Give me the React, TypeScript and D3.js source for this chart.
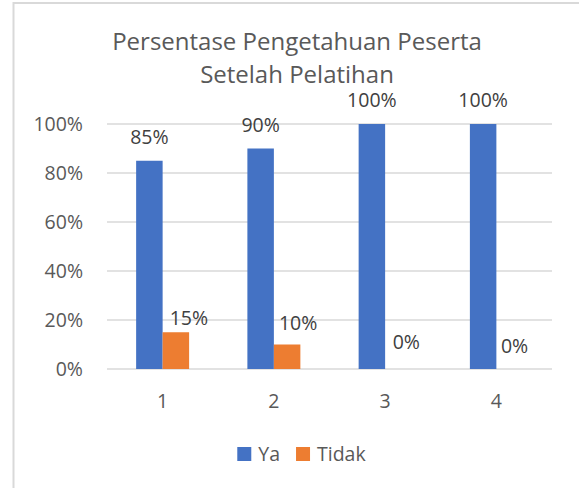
import React, { useRef, useEffect } from "react";
import * as d3 from "d3";

const categories = ["1", "2", "3", "4"];
const seriesNames = ["Ya", "Tidak"];
const yaValues = [0.85, 0.9, 1.0, 1.0];
const tidakValues = [0.15, 0.1, 0, 0];
const yTicks = [0, 0.2, 0.4, 0.6, 0.8, 1.0];
const titleLines = ["Persentase Pengetahuan Peserta", "Setelah Pelatihan"];

// Excel moved the Tidak labels around to dodge the blue bars
const tidakNudge = [
  [13, -7],
  [11, -15],
  [8, -20],
  [5, -16],
];

const colors = ["#4472C4", "#ED7D31"];
const textColor = "#595959";
const font = "'Open Sans', sans-serif";

const App = () => {
  const svgRef = useRef<SVGSVGElement>(null);

  useEffect(() => {
    const w = 579;
    const h = 488;
    const svg = d3.select(svgRef.current).attr("width", w).attr("height", h);
    svg.selectAll("*").remove();

    // chart border (only top and left visible in crop)
    svg
      .append("path")
      .attr("d", `M13.5,${h} L13.5,3 L${w},3`)
      .attr("fill", "none")
      .attr("stroke", "#d9d9d9")
      .attr("stroke-width", 2);

    const x = d3.scaleBand().domain(categories).range([107, 552]);
    const x1 = d3
      .scaleBand()
      .domain(seriesNames)
      .range([0, x.bandwidth()])
      .paddingOuter(1.1);
    const y = d3.scaleLinear().domain([0, 1]).range([369, 124]);

    // title
    svg
      .append("text")
      .attr("x", 297)
      .attr("y", 50)
      .attr("text-anchor", "middle")
      .attr("font-family", font)
      .attr("font-size", 24)
      .attr("fill", textColor)
      .selectAll("tspan")
      .data(titleLines)
      .enter()
      .append("tspan")
      .attr("x", 297)
      .attr("dy", (d, i) => (i === 0 ? 0 : 33))
      .text((d) => d);

    // gridlines
    svg
      .append("g")
      .selectAll("line")
      .data(yTicks)
      .enter()
      .append("line")
      .attr("x1", 107)
      .attr("x2", 552)
      .attr("y1", (d) => y(d))
      .attr("y2", (d) => y(d))
      .attr("stroke", "#d9d9d9")
      .attr("stroke-width", 1.3);

    // y axis labels
    svg
      .append("g")
      .selectAll("text")
      .data(yTicks)
      .enter()
      .append("text")
      .attr("x", 83)
      .attr("y", (d) => y(d) + 7)
      .attr("text-anchor", "end")
      .attr("font-family", font)
      .attr("font-size", 19.5)
      .attr("fill", textColor)
      .text((d) => d3.format(".0%")(d));

    // bars
    const groups = svg
      .append("g")
      .selectAll("g")
      .data(categories)
      .enter()
      .append("g")
      .attr("transform", (d) => `translate(${x(d)},0)`);

    const rows = [yaValues, tidakValues];
    groups
      .selectAll("rect")
      .data((d, i) => seriesNames.map((s, k) => ({ s, k, v: rows[k][i] })))
      .enter()
      .append("rect")
      .attr("x", (d) => x1(d.s)!)
      .attr("y", (d) => y(d.v))
      .attr("width", x1.bandwidth())
      .attr("height", (d) => y(0) - y(d.v))
      .attr("fill", (d) => colors[d.k]);

    // data labels
    groups
      .selectAll("text.lbl")
      .data((d, i) => seriesNames.map((s, k) => ({ s, k, i, v: rows[k][i] })))
      .enter()
      .append("text")
      .attr("class", "lbl")
      .attr("x", (d) => x1(d.s)! + x1.bandwidth() / 2 + (d.k === 1 ? tidakNudge[d.i][0] : 0))
      .attr("y", (d) => y(d.v) + (d.k === 1 ? tidakNudge[d.i][1] : -17))
      .attr("text-anchor", "middle")
      .attr("font-family", font)
      .attr("font-size", 19.5)
      .attr("fill", "#404040")
      .text((d) => d3.format(".0%")(d.v));

    // x axis labels
    svg
      .append("g")
      .selectAll("text")
      .data(categories)
      .enter()
      .append("text")
      .attr("x", (d) => x(d)! + x.bandwidth() / 2)
      .attr("y", 408)
      .attr("text-anchor", "middle")
      .attr("font-family", font)
      .attr("font-size", 19.5)
      .attr("fill", textColor)
      .text((d) => d);

    // legend
    const legend = svg.append("g");
    let cx = 0;
    seriesNames.forEach((s, k) => {
      const item = legend.append("g").attr("transform", `translate(${cx},0)`);
      item
        .append("rect")
        .attr("x", 0)
        .attr("y", 447)
        .attr("width", 14)
        .attr("height", 14)
        .attr("fill", colors[k]);
      const t = item
        .append("text")
        .attr("x", 21)
        .attr("y", 461)
        .attr("font-family", font)
        .attr("font-size", 19.5)
        .attr("fill", textColor)
        .text(s);
      const tw = (t.node() as SVGTextElement).getComputedTextLength();
      cx += 21 + tw + 16;
    });
    const lw = cx - 16;
    legend.attr("transform", `translate(${301.5 - lw / 2},0)`);
  }, []);

  return (
    <svg
      ref={svgRef}
      style={{ position: "absolute", left: 0, top: 0, background: "#fff" }}
    ></svg>
  );
};

export default App;
